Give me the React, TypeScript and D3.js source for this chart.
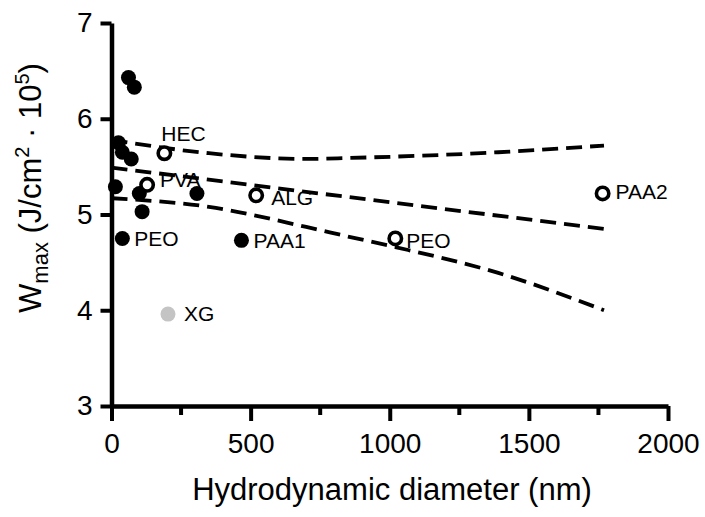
import React, { useEffect, useRef } from 'react';
import * as d3 from 'd3';

// filled circles (measured polymer solutions)
const filledX = [61, 82, 25, 39, 71, 14, 100, 110, 39, 307, 467];
const filledY = [6.43, 6.33, 5.75, 5.65, 5.58, 5.29, 5.22, 5.03, 4.75, 5.22, 4.73];
const filledLabel = ['', '', '', '', '', '', '', '', 'PEO', '', 'PAA1'];

// open circles
const openX = [190, 128, 520, 1020, 1765];
const openY = [5.64, 5.31, 5.2, 4.75, 5.22];
const openLabel = ['HEC', 'PVA', 'ALG', 'PEO', 'PAA2'];

// grey point
const greyX = [203];
const greyY = [3.96];
const greyLabel = ['XG'];

// regression line and 95% band
const fitX = [0, 1770];
const fitY = [5.49, 4.85];
const upperX = [0, 350, 700, 850, 1390, 1770];
const upperY = [5.78, 5.64, 5.58, 5.59, 5.65, 5.72];
const lowerX = [0, 350, 700, 850, 1020, 1390, 1770];
const lowerY = [5.17, 5.08, 4.87, 4.77, 4.66, 4.39, 4.0];

const xTicks = [0, 500, 1000, 1500, 2000];
const xMinor = [250, 750, 1250, 1750];
const yTicks = [3, 4, 5, 6, 7];

// label nudges (px) for the open circles
const openDx = [-3, 13, 15, 11, 13];
const openDy = [-12, 2, 10, 10, 6];

export default function App() {
  const ref = useRef<SVGSVGElement | null>(null);

  useEffect(() => {
    const svg = d3.select(ref.current);
    svg.selectAll('*').remove();
    const font = '"Liberation Sans", Arial, Helvetica, sans-serif';

    const x = d3.scaleLinear().domain([0, 2000]).range([111.5, 668]);
    const y = d3.scaleLinear().domain([3, 7]).range([406, 23]);

    // x axis
    const gx = svg.append('g').attr('transform', `translate(0,${y(3)})`);
    gx.call(d3.axisBottom(x).tickValues(xTicks).tickSize(15).tickSizeOuter(0).tickPadding(12).tickFormat(d3.format('d')));
    gx.selectAll('.minor')
      .data(xMinor)
      .enter()
      .append('line')
      .attr('x1', d => x(d))
      .attr('x2', d => x(d))
      .attr('y1', 0)
      .attr('y2', 9)
      .attr('stroke', '#000')
      .attr('stroke-width', 4);

    // y axis
    const gy = svg.append('g').attr('transform', `translate(${x(0)},0)`);
    gy.call(d3.axisLeft(y).tickValues(yTicks).tickSize(11).tickSizeOuter(0).tickPadding(8).tickFormat(d3.format('d')));

    [gx, gy].forEach(g => {
      g.select('.domain').attr('stroke-width', 4.5);
      g.selectAll('.tick line').attr('stroke-width', 4);
      g.selectAll('.tick text').attr('font-size', 28).attr('font-family', font).attr('fill', '#000');
    });

    // dashed fit + band
    const line = d3.line<[number, number]>()
      .x(d => x(d[0]))
      .y(d => y(d[1]))
      .curve(d3.curveMonotoneX);
    const curves = [
      d3.zip(fitX, fitY),
      d3.zip(upperX, upperY),
      d3.zip(lowerX, lowerY),
    ];
    svg.selectAll('.fit')
      .data(curves)
      .enter()
      .append('path')
      .attr('d', d => line(d as [number, number][]))
      .attr('fill', 'none')
      .attr('stroke', '#000')
      .attr('stroke-width', 3.8)
      .attr('stroke-dasharray', '16,8');

    // filled points
    svg.selectAll('.filled')
      .data(filledX)
      .enter()
      .append('circle')
      .attr('cx', d => x(d))
      .attr('cy', (d, i) => y(filledY[i]))
      .attr('r', 7.5)
      .attr('fill', '#000');
    svg.selectAll('.filledLabel')
      .data(filledX)
      .enter()
      .append('text')
      .attr('x', d => x(d) + 12)
      .attr('y', (d, i) => y(filledY[i]) + 8)
      .attr('font-size', 21)
      .attr('font-family', font)
      .text((d, i) => filledLabel[i]);

    // grey point
    svg.selectAll('.grey')
      .data(greyX)
      .enter()
      .append('circle')
      .attr('cx', d => x(d))
      .attr('cy', (d, i) => y(greyY[i]))
      .attr('r', 7.5)
      .attr('fill', '#c4c4c4');
    svg.selectAll('.greyLabel')
      .data(greyX)
      .enter()
      .append('text')
      .attr('x', d => x(d) + 16)
      .attr('y', (d, i) => y(greyY[i]) + 7)
      .attr('font-size', 21)
      .attr('font-family', font)
      .text((d, i) => greyLabel[i]);

    // open points
    svg.selectAll('.open')
      .data(openX)
      .enter()
      .append('circle')
      .attr('cx', d => x(d))
      .attr('cy', (d, i) => y(openY[i]))
      .attr('r', 6.2)
      .attr('fill', '#fff')
      .attr('stroke', '#000')
      .attr('stroke-width', 3.6);
    svg.selectAll('.openLabel')
      .data(openX)
      .enter()
      .append('text')
      .attr('x', (d, i) => x(d) + openDx[i])
      .attr('y', (d, i) => y(openY[i]) + openDy[i])
      .attr('font-size', 21)
      .attr('font-family', font)
      .text((d, i) => openLabel[i]);

    // axis titles
    svg.append('text')
      .attr('x', 392)
      .attr('y', 500)
      .attr('text-anchor', 'middle')
      .attr('font-size', 31)
      .attr('font-family', font)
      .text('Hydrodynamic diameter (nm)');

    const yt = svg.append('text')
      .attr('transform', 'translate(41,188) rotate(-90)')
      .attr('text-anchor', 'middle')
      .attr('font-size', 31)
      .attr('font-family', font);
    yt.append('tspan').text('W');
    yt.append('tspan').attr('font-size', 22).attr('dy', 7).text('max');
    yt.append('tspan').attr('dy', -7).text(' (J/cm');
    yt.append('tspan').attr('font-size', 20).attr('dy', -12).text('2');
    yt.append('tspan').attr('dy', 12).text(' \u00B7 10');
    yt.append('tspan').attr('font-size', 20).attr('dy', -12).text('5');
    yt.append('tspan').attr('dy', 12).text(')');
  }, []);

  return (
    <svg
      ref={ref}
      width={705}
      height={517}
      style={{ position: 'absolute', left: 0, top: 0, background: '#fff' }}
    />
  );
}
